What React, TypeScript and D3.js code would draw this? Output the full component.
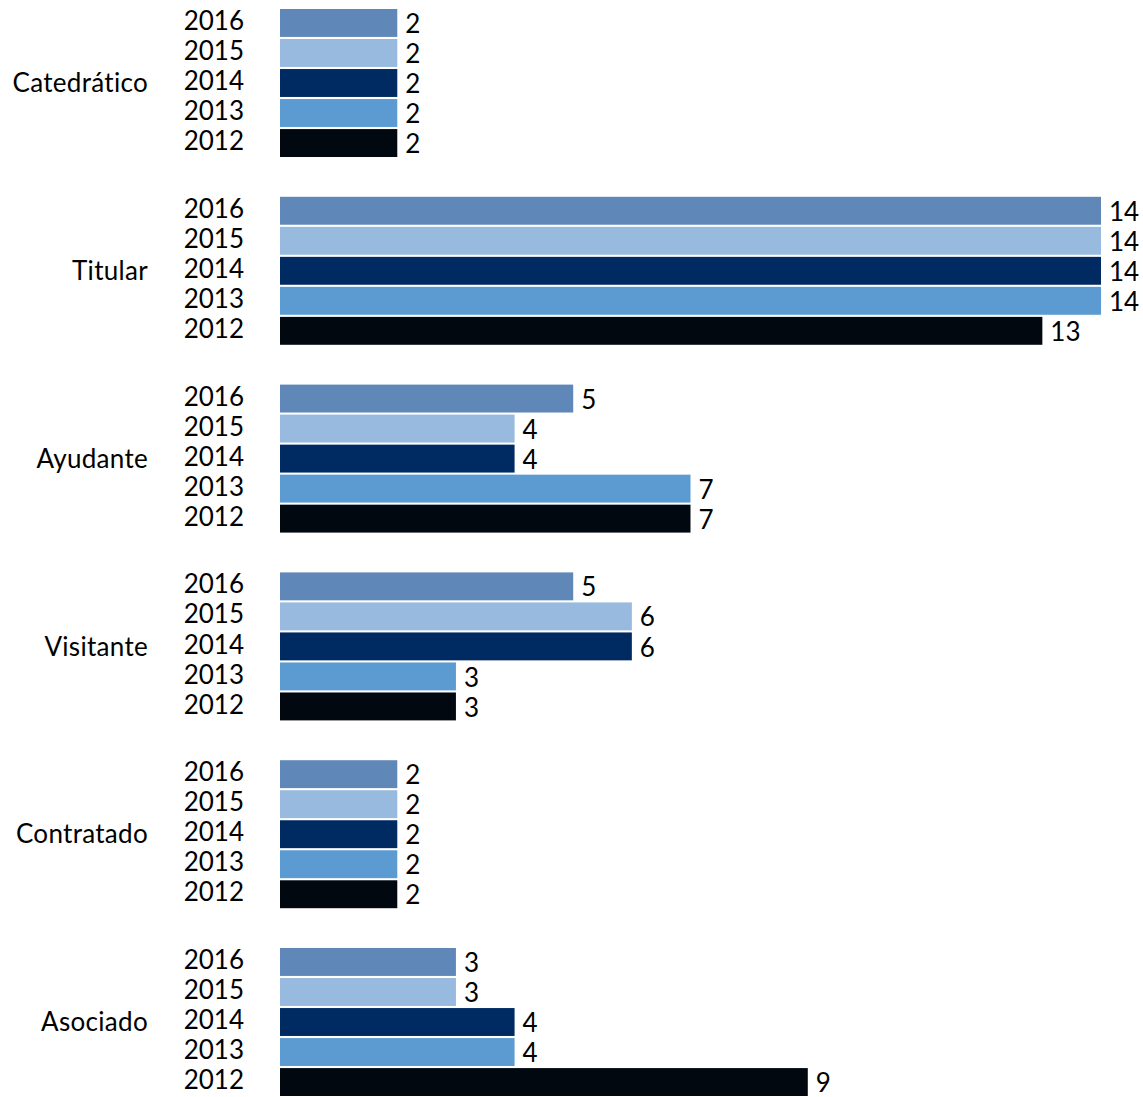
import React from "react";
import * as d3 from "d3";

const categories = ["Catedrático", "Titular", "Ayudante", "Visitante", "Contratado", "Asociado"];
const years = ["2016", "2015", "2014", "2013", "2012"];
const values2016 = [2, 14, 5, 5, 2, 3];
const values2015 = [2, 14, 4, 6, 2, 3];
const values2014 = [2, 14, 4, 6, 2, 4];
const values2013 = [2, 14, 7, 3, 2, 4];
const values2012 = [2, 13, 7, 3, 2, 9];
const yearColors = ["#5f87b8", "#97bade", "#002b62", "#5b9bd1", "#020810"];

const seriesByYear: Record<string, number[]> = {
  "2016": values2016,
  "2015": values2015,
  "2014": values2014,
  "2013": values2013,
  "2012": values2012,
};

const W = 1143;
const H = 1097;
const FONT = "Futura, 'Century Gothic', Lato, 'Noto Sans', sans-serif";

export default function App() {
  const x = d3.scaleLinear().domain([0, 14]).range([280, 1101]);
  const y0 = d3.scaleBand<string>().domain(categories).range([9, 1096]).paddingInner(0.212).paddingOuter(0);
  const y1 = d3.scaleBand<string>().domain(years).range([0, y0.bandwidth()]).paddingInner(0.07);
  const color = d3.scaleOrdinal<string, string>().domain(years).range(yearColors);

  return (
    <svg
      width={W}
      height={H}
      style={{ position: "absolute", left: 0, top: 0, display: "block", background: "#fff" }}
      fontFamily={FONT}
    >
      {categories.map((cat, ci) => {
        const gy = y0(cat)!;
        return (
          <g key={cat} transform={`translate(0,${gy})`}>
            <text x={148} y={y0.bandwidth() / 2} dy="0.35em" textAnchor="end" fontSize={26} fill="#000" letterSpacing={0.3}>
              {cat}
            </text>
            {years.map((yr) => {
              const v = seriesByYear[yr][ci];
              const by = y1(yr)!;
              const bh = y1.bandwidth();
              return (
                <g key={yr}>
                  <text x={244} y={by + bh / 2 - 2} dy="0.35em" textAnchor="end" fontSize={26} fill="#000">
                    {yr}
                  </text>
                  <rect x={x(0)} y={by} width={x(v) - x(0)} height={bh} fill={color(yr)} />
                  <text x={x(v) + 8} y={by + bh / 2 + 1} dy="0.35em" textAnchor="start" fontSize={26} fill="#000">
                    {v}
                  </text>
                </g>
              );
            })}
          </g>
        );
      })}
    </svg>
  );
}
